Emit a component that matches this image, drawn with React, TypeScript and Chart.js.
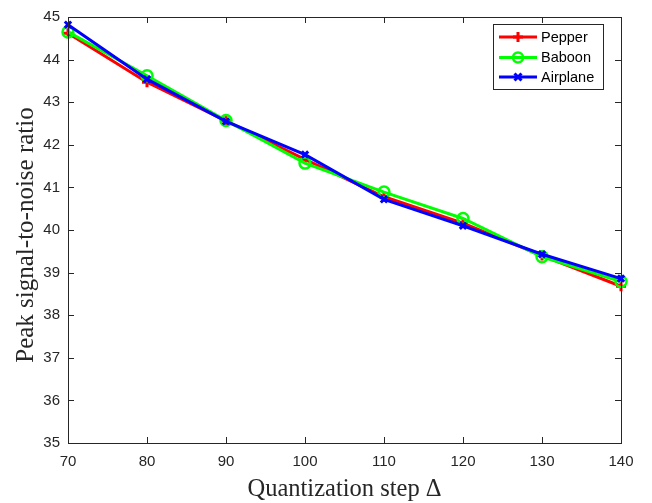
import React, { useEffect, useRef } from "react";
import { Chart, registerables } from "chart.js";

Chart.register(...registerables);

const steps = [70, 80, 90, 100, 110, 120, 130, 140];
const pepper = [44.62, 43.47, 42.56, 41.66, 40.78, 40.16, 39.4, 38.68];
const baboon = [44.65, 43.62, 42.57, 41.57, 40.89, 40.27, 39.37, 38.79];
const airplane = [44.82, 43.54, 42.55, 41.77, 40.72, 40.1, 39.43, 38.86];
const xTicks = [70, 80, 90, 100, 110, 120, 130, 140];
const yTicks = [35, 36, 37, 38, 39, 40, 41, 42, 43, 44, 45];
const seriesNames = ["Pepper", "Baboon", "Airplane"];
const seriesColors = ["#FF0000", "#00FF00", "#0000FF"];
const seriesMarkers = ["cross", "circle", "crossRot"];

const AXIS_COLOR = "#262626";
const SERIF = '"Liberation Serif", "Times New Roman", serif';

const decorPlugin = {
  id: "decor",
  afterDraw(chart: any) {
    const ctx = chart.ctx as CanvasRenderingContext2D;
    const a = chart.chartArea;
    const xs = chart.scales.x;
    const ys = chart.scales.y;
    ctx.save();
    // box
    ctx.strokeStyle = AXIS_COLOR;
    ctx.lineWidth = 1;
    ctx.strokeRect(Math.round(a.left) + 0.5, Math.round(a.top) + 0.5, Math.round(a.right - a.left), Math.round(a.bottom - a.top));
    // inward ticks
    const tl = 6;
    ctx.beginPath();
    for (const v of xTicks) {
      const px = Math.round(xs.getPixelForValue(v)) + 0.5;
      ctx.moveTo(px, a.bottom);
      ctx.lineTo(px, a.bottom - tl);
      ctx.moveTo(px, a.top);
      ctx.lineTo(px, a.top + tl);
    }
    for (const v of yTicks) {
      const py = Math.round(ys.getPixelForValue(v)) + 0.5;
      ctx.moveTo(a.left, py);
      ctx.lineTo(a.left + tl, py);
      ctx.moveTo(a.right, py);
      ctx.lineTo(a.right - tl, py);
    }
    ctx.stroke();

    // axis titles
    ctx.fillStyle = "#262626";
    ctx.font = "24.5px " + SERIF;
    ctx.textBaseline = "alphabetic";
    ctx.textAlign = "center";
    ctx.fillText("Quantization step \u0394", (a.left + a.right) / 2, 496);

    ctx.save();
    ctx.translate(33, 235);
    ctx.rotate(-Math.PI / 2);
    ctx.textAlign = "center";
    ctx.textBaseline = "alphabetic";
    ctx.font = "25px " + SERIF;
    ctx.fillText("Peak signal-to-noise ratio", 0, 0);
    ctx.restore();

    // legend
    const bx = 493, by = 24, bw = 110, bh = 65;
    ctx.fillStyle = "#FFFFFF";
    ctx.fillRect(bx, by, bw, bh);
    ctx.strokeStyle = AXIS_COLOR;
    ctx.lineWidth = 1;
    ctx.strokeRect(bx + 0.5, by + 0.5, bw, bh);
    const rows = [37, 57.5, 77];
    for (let i = 0; i < seriesNames.length; i++) {
      const y = rows[i];
      ctx.strokeStyle = seriesColors[i];
      ctx.lineWidth = 3;
      ctx.beginPath();
      ctx.moveTo(499, y);
      ctx.lineTo(537, y);
      ctx.stroke();
      const mx = 518;
      ctx.lineWidth = i === 1 ? 2.5 : 3;
      ctx.beginPath();
      if (seriesMarkers[i] === "cross") {
        ctx.moveTo(mx, y - 5);
        ctx.lineTo(mx, y + 5);
        ctx.moveTo(mx - 5, y);
        ctx.lineTo(mx + 5, y);
      } else if (seriesMarkers[i] === "circle") {
        ctx.arc(mx, y, 5, 0, Math.PI * 2);
      } else {
        const d = 3.5;
        ctx.moveTo(mx - d, y - d);
        ctx.lineTo(mx + d, y + d);
        ctx.moveTo(mx - d, y + d);
        ctx.lineTo(mx + d, y - d);
      }
      ctx.stroke();
      ctx.fillStyle = "#000000";
      ctx.font = '14.5px "Liberation Sans", Arial, sans-serif';
      ctx.textAlign = "left";
      ctx.textBaseline = "middle";
      ctx.fillText(seriesNames[i], 541, y + 0.5);
    }
    ctx.restore();
  },
};

export default function App() {
  const ref = useRef<HTMLCanvasElement | null>(null);
  useEffect(() => {
    if (!ref.current) return;
    const series = [pepper, baboon, airplane];
    const chart = new Chart(ref.current, {
      type: "line",
      data: {
        datasets: series.map((vals, i) => ({
          label: seriesNames[i],
          data: steps.map((s, j) => ({ x: s, y: vals[j] })),
          borderColor: seriesColors[i],
          backgroundColor: "rgba(0,0,0,0)",
          borderWidth: 3,
          pointStyle: seriesMarkers[i] as any,
          pointRadius: i === 1 ? 5.5 : i === 0 ? 5 : 4.5,
          pointBorderWidth: i === 1 ? 2.5 : 3,
          pointBorderColor: seriesColors[i],
          pointBackgroundColor: "rgba(0,0,0,0)",
          order: 3 - i,
          tension: 0,
          fill: false,
          clip: false as any,
        })),
      },
      plugins: [decorPlugin],
      options: {
        animation: false,
        responsive: false,
        devicePixelRatio: 1,
        layout: { padding: { left: 0, right: 31, top: 8, bottom: 0 } },
        plugins: { legend: { display: false }, tooltip: { enabled: false } },
        scales: {
          x: {
            type: "linear",
            min: 70,
            max: 140,
            afterFit: (s: any) => {
              s.height = 60;
            },
            afterBuildTicks: (s: any) => {
              s.ticks = xTicks.map((v) => ({ value: v }));
            },
            grid: { display: false, drawTicks: false },
            border: { display: false },
            ticks: {
              color: AXIS_COLOR,
              padding: 10,
              maxRotation: 0,
              font: { family: '"Liberation Sans", Arial, sans-serif', size: 15 },
            },
          },
          y: {
            type: "linear",
            min: 35,
            max: 45,
            afterFit: (s: any) => {
              s.width = 68;
            },
            afterBuildTicks: (s: any) => {
              s.ticks = yTicks.map((v) => ({ value: v }));
            },
            grid: { display: false, drawTicks: false },
            border: { display: false },
            ticks: {
              color: AXIS_COLOR,
              padding: 8,
              font: { family: '"Liberation Sans", Arial, sans-serif', size: 15 },
            },
          },
        },
      },
    });
    return () => chart.destroy();
  }, []);
  return (
    <div style={{ position: "fixed", left: 0, top: 0, width: 652, height: 503, background: "#fff" }}>
      <canvas ref={ref} width={652} height={503} style={{ width: 652, height: 503 }} />
    </div>
  );
}
